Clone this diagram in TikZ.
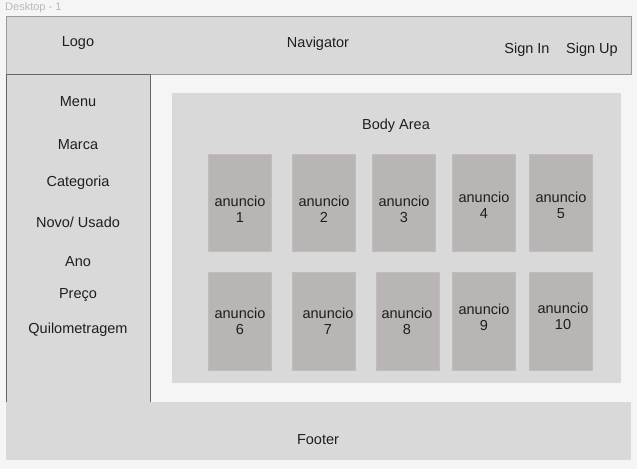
\documentclass[tikz,border=0pt]{standalone}
\usepackage{fontspec}
\setmainfont{Liberation Sans}
\definecolor{pagebg}{HTML}{F5F5F5}
\definecolor{panel}{HTML}{D9D9D9}
\definecolor{card}{HTML}{B9B5B4}
\definecolor{edge}{HTML}{9A9A9A}
\definecolor{txt}{HTML}{1E1E1E}
\tikzset{
	panelbox/.style={fill=panel, inner sep=0pt, anchor=north west},
	cardbox/.style={fill=card, draw=card!90!white, inner sep=0pt, anchor=north west, minimum width=63pt, minimum height=97pt},
	lbl/.style={text=txt, font=\fontsize{14.5}{16}\selectfont, inner sep=0pt, align=center}
}
\begin{document}
\begin{tikzpicture}[x=1pt, y=-1pt]
		\fill[pagebg] (0,0) rectangle (637,469);
		\useasboundingbox (0,0) rectangle (637,469);

		\node[anchor=west, text=black!28, font=\fontsize{11}{13}\selectfont, inner sep=0pt] (frame) at (5,8) {Desktop - 1};

		% header, side bar, footer
		\node[panelbox, draw=edge, minimum width=625pt, minimum height=58pt] (header) at (6,16) {};
		\node[panelbox, draw=black!60, minimum width=144pt, minimum height=328pt] (sidebar) at (6,74) {};
		\node[panelbox, minimum width=625pt, minimum height=58pt] (footer) at (6,402) {};

		\node[lbl] (logo) at (78,43.5) {Logo};
		\node[lbl] (nav) at (318,43.5) {Navigator};
		\node[lbl] (signin) at (527,49.5) {Sign In};
		\node[lbl] (signup) at (592,49.5) {Sign Up};
		\node[lbl] (foot) at (318,439.5) {Footer};

		% menu
		\node[lbl] (menu) at (78,101.5) {Menu};
		\node[lbl] (marca) at (78,144.5) {Marca};
		\node[lbl] (categoria) at (78,182.5) {Categoria};
		\node[lbl] (novo) at (78,222.5) {Novo/ Usado};
		\node[lbl] (ano) at (78,261.5) {Ano};
		\node[lbl] (preco) at (78,295.5) {Preço};
		\node[lbl] (km) at (78,329.5) {Quilometragem};

		% body
		\node[panelbox, minimum width=449pt, minimum height=290pt] (body) at (172,93) {};
		\node[lbl] (bodytitle) at (396,125.5) {Body Area};

		\node[cardbox] (ad1) at (208,154) {};
		\node[cardbox] (ad2) at (292,154) {};
		\node[cardbox] (ad3) at (372,154) {};
		\node[cardbox] (ad4) at (452,154) {};
		\node[cardbox] (ad5) at (529,154) {};
		\node[cardbox, minimum height=98pt] (ad6) at (208,272) {};
		\node[cardbox, minimum height=98pt] (ad7) at (292,272) {};
		\node[cardbox, minimum height=98pt] (ad8) at (376,272) {};
		\node[cardbox, minimum height=98pt] (ad9) at (452,272) {};
		\node[cardbox, minimum height=98pt] (ad10) at (529,272) {};

		\node[lbl] (t1) at (240,209) {anuncio\\1};
		\node[lbl] (t2) at (324,209) {anuncio\\2};
		\node[lbl] (t3) at (404,209) {anuncio\\3};
		\node[lbl] (t4) at (484,205.5) {anuncio\\4};
		\node[lbl] (t5) at (561,205.5) {anuncio\\5};
		\node[lbl] (t6) at (240,321) {anuncio\\6};
		\node[lbl] (t7) at (328,321) {anuncio\\7};
		\node[lbl] (t8) at (407,321) {anuncio\\8};
		\node[lbl] (t9) at (484,317) {anuncio\\9};
		\node[lbl] (t10) at (563,316) {anuncio\\10};
	\end{tikzpicture}
\end{document}
